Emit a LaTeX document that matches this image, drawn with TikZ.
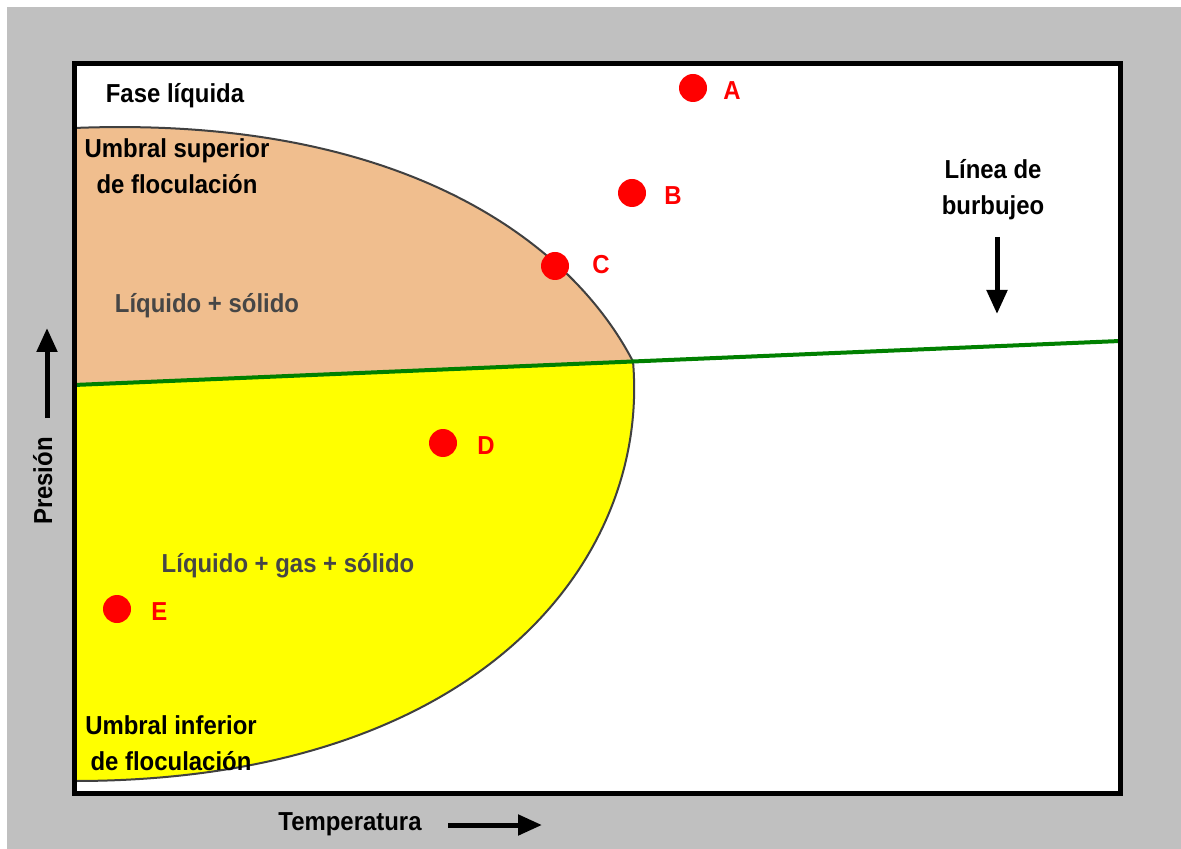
\documentclass[tikz,border=0pt]{standalone}
\usepackage{fontspec}
\setmainfont{Liberation Sans}[FakeStretch=0.92]
\usetikzlibrary{arrows.meta}
\definecolor{bordergray}{RGB}{192,192,192}
\definecolor{peach}{RGB}{240,190,142}
\definecolor{pureyellow}{RGB}{255,255,0}
\definecolor{curvegray}{RGB}{64,64,64}
\definecolor{zonegray}{RGB}{70,70,70}
\definecolor{bubblegreen}{RGB}{0,128,0}
\tikzset{
  lbl/.style={font=\fontsize{13pt}{18pt}\selectfont\bfseries, inner sep=0pt, align=center},
  zone/.style={lbl, text=zonegray},
  dot/.style={circle, fill=red, inner sep=0pt, minimum size=14pt},
  dotlbl/.style={lbl, text=red, anchor=base west},
  bigarrow/.style={line width=2.5pt, -{Triangle[length=12pt,width=10pt]}},
}
\begin{document}
\begin{tikzpicture}[x=0.5pt,y=-0.5pt]
% background and frame area
\useasboundingbox (0,0) rectangle (1181,849);
\fill[white] (0,0) rectangle (1181,849);
\fill[bordergray] (7,7) rectangle (1181,849);
\fill[white] (74,64) rectangle (1120,793);
% key points of the envelope
\coordinate (top) at (74,128);
\coordinate (tip) at (633,361.5);
\coordinate (bot) at (74,781);
\coordinate (gl) at (74,385);
\coordinate (gr) at (1120,341);
% liquid + solid region
\fill[peach] (top) .. controls (400,115) and (570,240) .. (tip) -- (gl) -- cycle;
% liquid + gas + solid region
\fill[pureyellow] (gl) -- (tip) .. controls (650,560) and (480,781) .. (bot) -- cycle;
% flocculation thresholds
\draw[curvegray, line width=1pt] (top) .. controls (400,115) and (570,240) .. (tip);
\draw[curvegray, line width=1pt] (tip) .. controls (650,560) and (480,781) .. (bot);
% bubble line
\draw[bubblegreen, line width=2pt] (gl) -- (gr);
% frame
\draw[line width=2.5pt] (74,64) rectangle (1120,793);
% region texts
\node[lbl, anchor=base] (fase) at (175,103) {Fase líquida};
\node[lbl, anchor=base] (usup) at (177,194) {Umbral superior\\de floculación};
\node[zone, anchor=base] (ls) at (207,313) {Líquido + sólido};
\node[zone, anchor=base] (lgs) at (288,572) {Líquido + gas + sólido};
\node[lbl, anchor=base] (uinf) at (171,770) {Umbral inferior\\de floculación};
\node[lbl, anchor=base] (burb) at (993,215) {Línea de\\burbujeo};
% points
\node[dot] (A) at (693,88) {};
\node[dot] (B) at (632,193) {};
\node[dot] (C) at (555,266) {};
\node[dot] (D) at (443,443) {};
\node[dot] (E) at (117,609) {};
\node[dotlbl] (Alb) at (723,100) {A};
\node[dotlbl] (Blb) at (664,205) {B};
\node[dotlbl] (Clb) at (592,274) {C};
\node[dotlbl] (Dlb) at (477,454) {D};
\node[dotlbl] (Elb) at (151,620) {E};
% axes
\node[lbl, anchor=base, rotate=90] (pres) at (52,481) {Presión};
\node[lbl, anchor=base] (temp) at (350,830) {Temperatura};
\coordinate (p0) at (47,418);
\coordinate (p1) at (47,328);
\coordinate (t0) at (448,825);
\coordinate (t1) at (542,825);
\coordinate (b0) at (997,237);
\coordinate (b1) at (997,314);
\draw[bigarrow] (p0) -- (p1);
\draw[bigarrow] (t0) -- (t1);
\draw[bigarrow] (b0) -- (b1);
\end{tikzpicture}
\end{document}
